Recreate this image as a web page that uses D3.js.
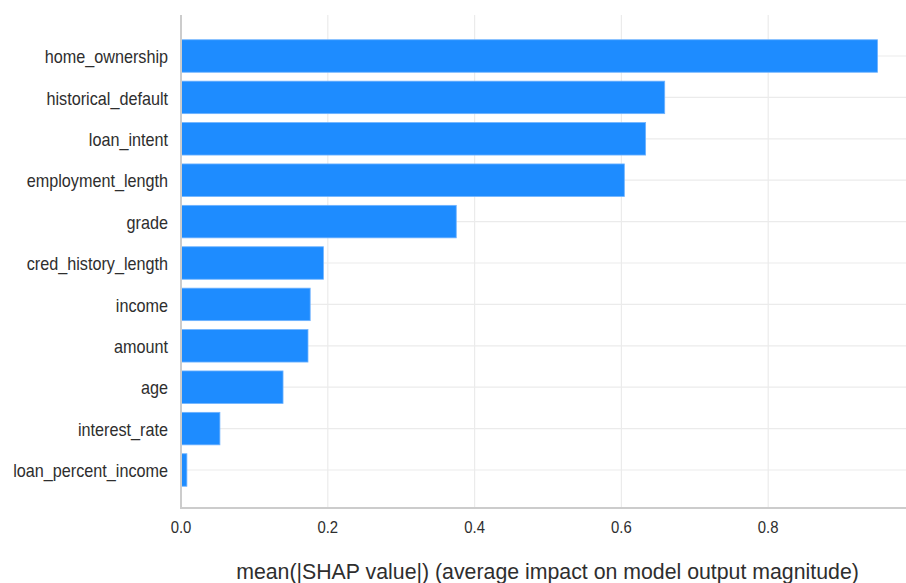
<!DOCTYPE html>
<html>
<head>
<meta charset="utf-8">
<script src="https://cdn.jsdelivr.net/npm/d3@7"></script>
<style>
  html, body { margin: 0; padding: 0; background: #fff; }
  svg { display: block; }
  text { font-family: "Liberation Sans", Arial, sans-serif; fill: #2e2e2e; }
</style>
</head>
<body>
<svg id="chart" width="906" height="583"></svg>
<script>
// Features ordered by mean |SHAP| (largest first)
const features = [
  "home_ownership", "historical_default", "loan_intent", "employment_length",
  "grade", "cred_history_length", "income", "amount", "age",
  "interest_rate", "loan_percent_income"
];
const meanAbsShap = [0.949, 0.659, 0.633, 0.604, 0.375, 0.194, 0.176, 0.173, 0.139, 0.053, 0.008];
const xTicks = [0.0, 0.2, 0.4, 0.6, 0.8];
const xTitle = "mean(|SHAP value|) (average impact on model output magnitude)";

const svg = d3.select("#chart");
const plotLeft = 181, plotRight = 906, plotTop = 15, plotBottom = 508;

const x = d3.scaleLinear().domain([0, 0.2]).range([plotLeft, plotLeft + 146.8]);
const y = d3.scaleLinear().domain([0, features.length - 1]).range([56, 470]);
const barH = 32.5;

// vertical grid
svg.append("g").selectAll("line").data(xTicks.slice(1)).join("line")
  .attr("x1", d => x(d)).attr("x2", d => x(d))
  .attr("y1", plotTop).attr("y2", plotBottom)
  .attr("stroke", "#ebebeb").attr("stroke-width", 1.2);

// horizontal grid at each bar row
svg.append("g").selectAll("line").data(features).join("line")
  .attr("x1", plotLeft).attr("x2", plotRight)
  .attr("y1", (d, i) => y(i)).attr("y2", (d, i) => y(i))
  .attr("stroke", "#ebebeb").attr("stroke-width", 1.2);

// bars
svg.append("g").selectAll("rect").data(meanAbsShap).join("rect")
  .attr("x", x(0))
  .attr("y", (d, i) => y(i) - barH / 2)
  .attr("width", d => x(d) - x(0))
  .attr("height", barH)
  .attr("fill", "#1e8cff")
  .attr("stroke", "#6fb3ff")
  .attr("stroke-width", 0.8);

// spines
svg.append("line").attr("x1", plotLeft).attr("x2", plotLeft).attr("y1", plotTop).attr("y2", plotBottom + 1)
  .attr("stroke", "#cccccc").attr("stroke-width", 2);
svg.append("line").attr("x1", plotLeft).attr("x2", plotRight).attr("y1", plotBottom).attr("y2", plotBottom)
  .attr("stroke", "#cccccc").attr("stroke-width", 2);

// feature labels (slightly condensed glyphs)
const labelScale = 0.9;
svg.append("g").attr("transform", `scale(${labelScale},1)`)
  .selectAll("text").data(features).join("text")
  .attr("x", 168 / labelScale)
  .attr("y", (d, i) => y(i))
  .attr("dy", "0.4em")
  .attr("text-anchor", "end")
  .attr("font-size", 18)
  .text(d => d);

// x tick labels
const tickScale = 0.93;
svg.append("g").attr("transform", `scale(${tickScale},1)`)
  .selectAll("text").data(xTicks).join("text")
  .attr("x", d => x(d) / tickScale)
  .attr("y", 533)
  .attr("text-anchor", "middle")
  .attr("font-size", 16)
  .text(d => d3.format(".1f")(d));

// x axis title
svg.append("text")
  .attr("x", 547.5)
  .attr("y", 579)
  .attr("text-anchor", "middle")
  .attr("font-size", 21.3)
  .text(xTitle);
</script>
</body>
</html>
